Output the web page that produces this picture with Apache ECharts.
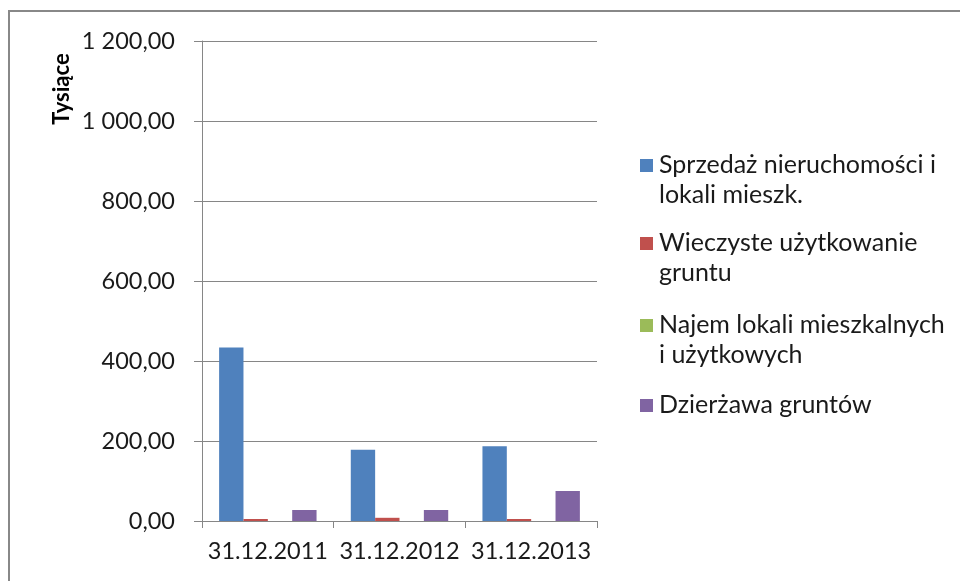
<!DOCTYPE html>
<html>
<head>
<meta charset="utf-8">
<script src="https://cdn.jsdelivr.net/npm/echarts@6/dist/echarts.min.js"></script>
<style>
  html, body { margin: 0; padding: 0; background: #fff; }
  #chart { width: 960px; height: 581px; }
</style>
</head>
<body>
<div id="chart"></div>
<script>
const categories = ["31.12.2011", "31.12.2012", "31.12.2013"]
const seriesNames = [
  "Sprzedaż nieruchomości i\nlokali mieszk.",
  "Wieczyste użytkowanie\ngruntu",
  "Najem lokali mieszkalnych\ni użytkowych",
  "Dzierżawa gruntów",
]
const sprzedaz = [434, 178, 187]
const wieczyste = [5, 8, 5]
const najem = [0, 0, 0]
const dzierzawa = [27.5, 27.5, 75]
const colors = ["#4f81bd", "#c0504d", "#9bbb59", "#8064a2"]
const yTicks = [0, 200, 400, 600, 800, 1000, 1200]

const font = "Lato, 'Noto Sans', sans-serif"
const values = [sprzedaz, wieczyste, najem, dzierzawa]

function formatPl(v) {
  const parts = v.toFixed(2).split(".")
  const intPart = parts[0].replace(/\B(?=(\d{3})+(?!\d))/g, " ")
  return intPart + "," + parts[1]
}

// legend drawn as graphic so the marker sits on the first text line
const legendTop = [165, 243, 325, 405]
const legendItems = []
seriesNames.forEach((name, i) => {
  legendItems.push({
    type: "rect",
    shape: { x: 640, y: legendTop[i] - 6, width: 13, height: 13 },
    style: { fill: colors[i] },
  })
  legendItems.push({
    type: "text",
    x: 659,
    y: legendTop[i] - 15,
    style: {
      text: name,
      font: "25px " + font,
      fill: "#1a1a1a",
      lineHeight: 30,
      verticalAlign: "top",
    },
  })
})

const chart = echarts.init(document.getElementById("chart"))
chart.setOption({
  animation: false,
  grid: { left: 202, right: 363, top: 41, bottom: 60, containLabel: false, outerBoundsMode: "none" },
  xAxis: {
    type: "category",
    data: categories,
    axisLine: { lineStyle: { color: "#868686", width: 1 } },
    axisTick: { show: true, length: 7, lineStyle: { color: "#868686" } },
    axisLabel: { color: "#1a1a1a", fontSize: 23.5, fontFamily: font, margin: 18, interval: 0, hideOverlap: false },
  },
  yAxis: {
    type: "value",
    min: yTicks[0],
    max: yTicks[yTicks.length - 1],
    interval: 200,
    axisLine: { show: true, lineStyle: { color: "#868686" } },
    axisTick: { show: true, length: 8, lineStyle: { color: "#868686" } },
    axisLabel: { color: "#1a1a1a", fontSize: 23.5, fontFamily: font, margin: 27, formatter: formatPl },
    splitLine: { lineStyle: { color: "#868686" } },
  },
  series: values.map((data, i) => ({
    type: "bar",
    name: seriesNames[i],
    data: data,
    itemStyle: { color: colors[i] },
    barGap: "0%",
    barCategoryGap: "26%",
  })),
  graphic: [
    {
      type: "rect",
      shape: { x: 9, y: 11, width: 1000, height: 700 },
      style: { fill: "none", stroke: "#888", lineWidth: 2 },
      silent: true,
    },
    {
      type: "text",
      x: 62,
      y: 89,
      rotation: Math.PI / 2,
      style: {
        text: "Tysiące",
        font: "bold 22px " + font,
        fill: "#000",
        align: "center",
        verticalAlign: "middle",
      },
    },
    ...legendItems,
  ],
})
</script>
</body>
</html>
